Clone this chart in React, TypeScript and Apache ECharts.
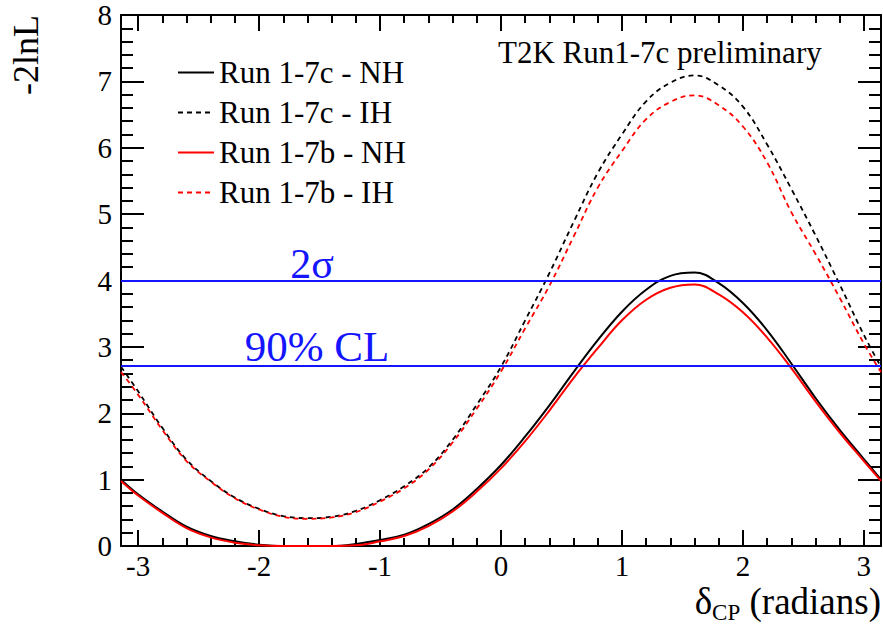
import React, { useEffect, useRef } from "react";
import * as echarts from "echarts";

// delta_CP sample points (radians)
const deltaCP = [-3.1415, -3.0, -2.8, -2.6, -2.4, -2.2, -2.0, -1.8, -1.6, -1.4, -1.2, -1.0, -0.8, -0.6, -0.4, -0.2, 0.0,
  0.2, 0.4, 0.6, 0.8, 1.0, 1.2, 1.4, 1.6, 1.8, 2.0, 2.2, 2.4, 2.6, 2.8, 3.0, 3.1415];

// -2lnL values
const run7cNH = [1.00, 0.78, 0.52, 0.29, 0.15, 0.07, 0.02, 0.00, 0.00, 0.00, 0.03, 0.09, 0.17, 0.33, 0.55, 0.86, 1.22,
  1.65, 2.12, 2.62, 3.10, 3.53, 3.86, 4.07, 4.12, 3.96, 3.66, 3.25, 2.75, 2.23, 1.75, 1.31, 1.00];
const run7cIH = [2.70, 2.33, 1.78, 1.30, 0.98, 0.73, 0.56, 0.45, 0.42, 0.44, 0.53, 0.69, 0.90, 1.18, 1.60, 2.13, 2.70,
  3.40, 4.11, 4.88, 5.62, 6.20, 6.70, 6.98, 7.09, 6.94, 6.62, 6.05, 5.38, 4.68, 3.94, 3.18, 2.70];
const run7bNH = [0.98, 0.76, 0.50, 0.27, 0.13, 0.05, 0.01, 0.00, 0.00, 0.00, 0.01, 0.07, 0.15, 0.30, 0.52, 0.82, 1.17,
  1.58, 2.04, 2.53, 2.98, 3.40, 3.71, 3.89, 3.94, 3.79, 3.52, 3.14, 2.68, 2.18, 1.71, 1.28, 0.98];
const run7bIH = [2.62, 2.28, 1.75, 1.28, 0.97, 0.72, 0.55, 0.44, 0.41, 0.43, 0.51, 0.67, 0.87, 1.15, 1.56, 2.07, 2.63,
  3.28, 3.92, 4.66, 5.40, 5.95, 6.43, 6.69, 6.79, 6.64, 6.32, 5.78, 5.03, 4.40, 3.74, 3.05, 2.62];

const seriesNames = ["Run 1-7c - NH", "Run 1-7c - IH", "Run 1-7b - NH", "Run 1-7b - IH"];

// Tick labels
const xTickLabels = [-3, -2, -1, 0, 1, 2, 3];
const yTickLabels = [0, 1, 2, 3, 4, 5, 6, 7, 8];

// Reference levels
const sigma2Level = 4;
const cl90Level = 2.71;
const sigma2Text = "2σ";
const cl90Text = "90% CL";
const titleText = "T2K Run1-7c preliminary";
const yTitle = "-2lnL";
const xTitleMain = "δ";
const xTitleSub = "CP";
const xTitleUnit = " (radians)";

const FONT = "'Liberation Serif', 'Times New Roman', serif";
const BLUE = "#1414ff";

export default function App() {
  const ref = useRef<HTMLDivElement>(null);

  useEffect(() => {
    if (!ref.current) return;
    const chart = echarts.init(ref.current, undefined, { renderer: "svg" });

    const xMinor: number[] = [];
    for (let i = -15; i <= 15; i++) if (i % 5 !== 0) xMinor.push(i / 5);

    const pairs = (ys: number[]) => deltaCP.map((x, i) => [x, ys[i]]);

    const tickLine = { color: "#000", width: 2 };
    const baseX = {
      type: "value" as const,
      min: -Math.PI,
      max: Math.PI,
      splitLine: { show: false },
      axisLine: { onZero: false, show: true, lineStyle: tickLine },
    };

    const lineSeries = (name: string, ys: number[], color: string, dashed: boolean) => ({
      name,
      type: "line",
      data: pairs(ys),
      symbol: "none",
      showSymbol: false,
      smooth: 0.4,
      lineStyle: { color, width: dashed ? 1.8 : 2, type: dashed ? [5, 4] : "solid" },
      itemStyle: { color },
      emphasis: { disabled: true },
    });

    // x-title pieces (right aligned at the frame edge)
    const unitFont = 37;
    const subFont = 23;
    const unitWidth = 3.804 * unitFont;
    const subWidth = 1.223 * subFont;
    const xRight = 881;

    chart.setOption({
      animation: false,
      backgroundColor: "#fff",
      grid: { left: 121, right: 2, top: 15, bottom: 81, containLabel: false, outerBoundsMode: "none" },
      title: {
        text: titleText,
        left: 498,
        top: 37,
        padding: 0,
        textStyle: { fontFamily: FONT, fontSize: 31, fontWeight: "normal", color: "#000", lineHeight: 31 },
      },
      legend: {
        data: seriesNames,
        orient: "vertical",
        left: 177,
        top: 57,
        padding: 0,
        itemWidth: 36,
        itemHeight: 14,
        itemGap: 9,
        itemStyle: { opacity: 0, borderWidth: 0 },
        textStyle: { fontFamily: FONT, fontSize: 31, color: "#000", lineHeight: 30 },
        selectedMode: false,
      },
      xAxis: [
        {
          ...baseX,
          position: "bottom",
          axisTick: { show: true, inside: true, length: 16, customValues: xTickLabels, lineStyle: tickLine },
          axisLabel: { customValues: xTickLabels, fontFamily: FONT, fontSize: 29, color: "#000", margin: 5 },
        },
        {
          ...baseX,
          position: "bottom",
          axisLine: { show: false, onZero: false },
          axisTick: { show: true, inside: true, length: 8, customValues: xMinor, lineStyle: tickLine },
          axisLabel: { show: false },
        },
        {
          ...baseX,
          position: "top",
          axisTick: { show: true, inside: true, length: 16, customValues: xTickLabels, lineStyle: tickLine },
          axisLabel: { show: false },
        },
        {
          ...baseX,
          position: "top",
          axisLine: { show: false, onZero: false },
          axisTick: { show: true, inside: true, length: 8, customValues: xMinor, lineStyle: tickLine },
          axisLabel: { show: false },
        },
      ],
      yAxis: [
        {
          type: "value",
          position: "left",
          min: yTickLabels[0],
          max: yTickLabels[yTickLabels.length - 1],
          interval: 1,
          splitLine: { show: false },
          axisLine: { show: true, onZero: false, lineStyle: tickLine },
          axisTick: { show: true, inside: true, length: 23, lineStyle: tickLine },
          minorTick: { show: true, splitNumber: 5, length: 12, lineStyle: tickLine },
          axisLabel: { fontFamily: FONT, fontSize: 29, color: "#000", margin: 9 },
        },
        {
          type: "value",
          position: "right",
          min: yTickLabels[0],
          max: yTickLabels[yTickLabels.length - 1],
          interval: 1,
          splitLine: { show: false },
          axisLine: { show: true, onZero: false, lineStyle: tickLine },
          axisTick: { show: true, inside: true, length: 23, lineStyle: tickLine },
          minorTick: { show: true, splitNumber: 5, length: 12, lineStyle: tickLine },
          axisLabel: { show: false },
        },
      ],
      series: [
        lineSeries(seriesNames[0], run7cNH, "#000000", false),
        lineSeries(seriesNames[1], run7cIH, "#000000", true),
        lineSeries(seriesNames[2], run7bNH, "#ff0000", false),
        lineSeries(seriesNames[3], run7bIH, "#ff0000", true),
        {
          name: "levels",
          type: "line",
          data: [],
          z: 5,
          markLine: {
            silent: true,
            symbol: "none",
            label: { show: false },
            lineStyle: { color: BLUE, width: 2, type: "solid" },
            data: [{ yAxis: sigma2Level }, { yAxis: cl90Level }],
          },
        },
      ],
      graphic: [
        {
          type: "text",
          x: 26,
          y: 15,
          rotation: Math.PI / 2,
          style: { text: yTitle, font: `36px ${FONT}`, fill: "#000", align: "right", verticalAlign: "middle" },
        },
        {
          type: "text",
          x: xRight,
          y: 601,
          style: { text: xTitleUnit, font: `${unitFont}px ${FONT}`, fill: "#000", align: "right", verticalAlign: "middle" },
        },
        {
          type: "text",
          x: xRight - unitWidth,
          y: 612,
          style: { text: xTitleSub, font: `${subFont}px ${FONT}`, fill: "#000", align: "right", verticalAlign: "middle" },
        },
        {
          type: "text",
          x: xRight - unitWidth - subWidth,
          y: 601,
          style: { text: xTitleMain, font: `${unitFont}px ${FONT}`, fill: "#000", align: "right", verticalAlign: "middle" },
        },
        {
          type: "text",
          x: 312,
          y: 264,
          style: { text: sigma2Text, font: `42px ${FONT}`, fill: BLUE, align: "center", verticalAlign: "middle" },
        },
        {
          type: "text",
          x: 317,
          y: 346,
          style: { text: cl90Text, font: `43px ${FONT}`, fill: BLUE, align: "center", verticalAlign: "middle" },
        },
      ],
    });

    return () => chart.dispose();
  }, []);

  return (
    <div
      ref={ref}
      style={{ position: "absolute", left: 0, top: 0, width: 883, height: 627, background: "#fff" }}
    />
  );
}
